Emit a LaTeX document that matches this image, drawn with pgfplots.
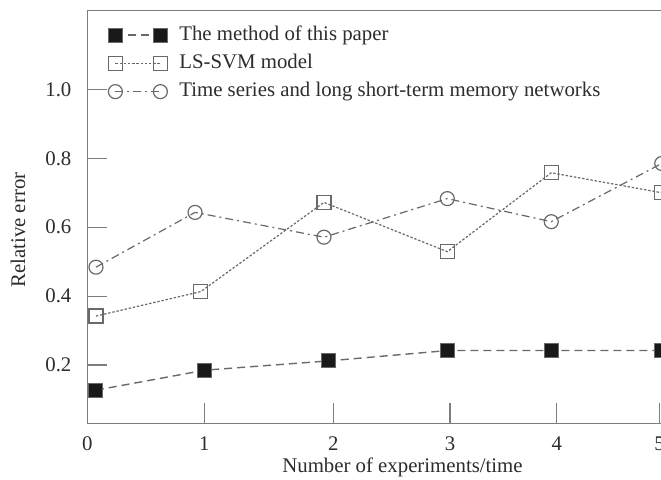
\documentclass[border=0pt]{standalone}
\usepackage{fontspec}
\setmainfont{Liberation Serif}
\usepackage{pgfplots}
\pgfplotsset{compat=1.18}
\definecolor{txt}{RGB}{45,45,45}
\definecolor{spine}{RGB}{125,125,125}
\definecolor{ln}{RGB}{105,105,105}
\begin{document}
\fontsize{10.4}{12.5}\selectfont
\begin{tikzpicture}
\useasboundingbox (0,0) rectangle (330.5pt,239.5pt);
\fill[white] (0,0) rectangle (330.5pt,239.5pt);
\clip (0,0) rectangle (330.5pt,239.5pt);
\begin{axis}[
  scale only axis, width=307.8pt, height=206.4pt,
  at={(43.65pt,27.85pt)}, anchor=south west,
  xmin=0, xmax=5.4, ymin=0.0308, ymax=1.229,
  xtick={0,1.026,2.158,3.182,4.118,5.02},
  xticklabels={0,1,2,3,4,5},
  ytick={0.2,0.4,0.6,0.8,1.0},
  xtick pos=bottom, ytick pos=left,
  tick align=inside, major tick length=10pt,
  tick style={spine, line width=0.6pt},
  axis line style={spine, line width=0.75pt},
  /pgf/number format/assume math mode=true,
  yticklabel style={/pgf/number format/.cd, fixed, fixed zerofill, precision=1, /tikz/.cd, xshift=-4.3pt, text=txt},
  xticklabel style={yshift=-3.2pt, text=txt},
  xlabel={Number of experiments/time},
  ylabel={Relative error},
  xlabel style={at={(axis description cs:0.512,-0.108)}, anchor=center, text=txt},
  ylabel style={at={(axis description cs:-0.1126,0.468)}, anchor=center, rotate=0, text=txt},
  legend cell align=left,
  legend style={at={(axis description cs:0.0336,0.872)}, anchor=west, draw=none, fill=none,
    inner sep=0pt, row sep=2.35pt, column sep=5pt,
    nodes={inner sep=1pt, text height=7.5pt, text depth=2.3pt, text=txt}},
  legend image code/.code={%
    \draw[mark=none] (0pt,0pt) -- (22.5pt,0pt);
    \draw[solid] plot[only marks] coordinates {(0pt,0pt) (22.5pt,0pt)};},
]
\addplot[ln, line width=0.7pt, dash pattern=on 4pt off 2.5pt, mark=square*, mark size=3.5pt,
  mark options={solid, fill=black!90, draw=ln, line width=0.5pt}]
  coordinates {(0.076,0.127) (1.032,0.185) (2.118,0.212) (3.158,0.242) (4.070,0.242) (5.039,0.242)};
\addlegendentry{The method of this paper}
\addplot[ln, line width=0.6pt, dash pattern=on 1.2pt off 0.9pt, mark=square, mark size=3.5pt,
  mark options={solid, fill=white, line width=0.6pt}]
  coordinates {(0.076,0.342) (0.995,0.413) (2.076,0.672) (3.158,0.529) (4.070,0.758) (5.039,0.700)};
\addlegendentry{LS-SVM model}
\addplot[ln, line width=0.6pt, dash pattern=on 4pt off 2pt on 1pt off 2pt, mark=o, mark size=3.5pt,
  mark options={solid, fill=white, line width=0.6pt}]
  coordinates {(0.076,0.484) (0.945,0.643) (2.076,0.571) (3.158,0.683) (4.070,0.616) (5.039,0.785)};
\addlegendentry{Time series and long short-term memory networks}
\end{axis}
\end{tikzpicture}
\end{document}
